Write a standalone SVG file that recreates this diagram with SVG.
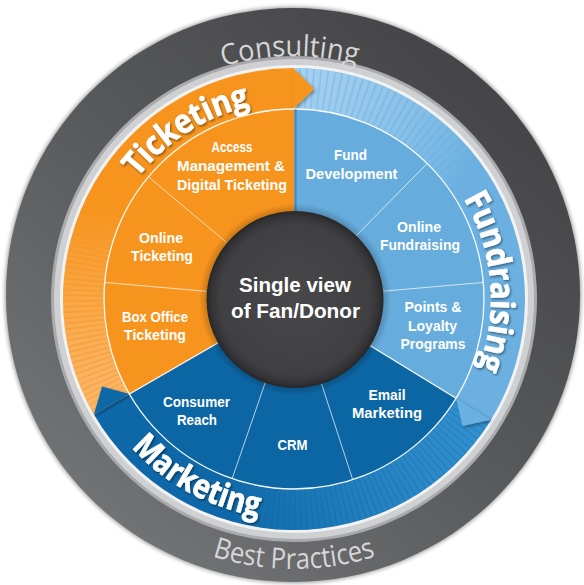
<svg xmlns="http://www.w3.org/2000/svg" width="584" height="585" viewBox="0 0 584 585">
<style>
.seg{font-family:'Liberation Sans',Arial,sans-serif;font-weight:700;font-size:15px;fill:#fff;text-anchor:middle}
.cat{font-family:'Open Sans','Liberation Sans',sans-serif;font-weight:700;font-size:33px;fill:#fff;stroke:#fff;stroke-width:0.7;text-anchor:middle}
.rim{font-family:'Open Sans','Liberation Sans',sans-serif;font-weight:400;font-size:29px;fill:#d5d6d7;text-anchor:middle}
.ctr{font-family:'Liberation Sans',Arial,sans-serif;font-weight:700;font-size:20px;fill:#fff;text-anchor:middle}
.div{stroke:#fff;stroke-opacity:.7;stroke-width:1;fill:none}
.bnd{stroke:#fff;stroke-opacity:.95;stroke-width:1.3;fill:none}
.orange{fill:#f7941e}
.lblue{fill:#66acdc}
.lband{fill:#6bb0e0}
.dblue{fill:#0c66a4}
.dband{fill:#0e68a8}
</style>
<defs>
<radialGradient id="rimG" cx="0.5" cy="0.5" r="0.5">
<stop offset="0.955" stop-color="#6f7072"/>
<stop offset="0.98" stop-color="#b9babc"/>
<stop offset="1" stop-color="#ffffff" stop-opacity="0"/>
</radialGradient>
<linearGradient id="ringG" x1="0.85" y1="0.1" x2="0.15" y2="0.9">
<stop offset="0" stop-color="#444446"/>
<stop offset="0.5" stop-color="#58595b"/>
<stop offset="1" stop-color="#737476"/>
</linearGradient>
<radialGradient id="discG" cx="0.5" cy="0.5" r="0.5">
<stop offset="0" stop-color="#48484a"/>
<stop offset="0.85" stop-color="#404042"/>
<stop offset="0.95" stop-color="#333335"/>
<stop offset="1" stop-color="#262627"/>
</radialGradient>
<radialGradient id="discSh" cx="0.5" cy="0.5" r="0.5">
<stop offset="0.85" stop-color="#000" stop-opacity="0.35"/>
<stop offset="1" stop-color="#000" stop-opacity="0"/>
</radialGradient>
<linearGradient id="ovO" gradientUnits="userSpaceOnUse" x1="111.7" y1="404.25" x2="103.2" y2="210.04">
<stop offset="0" stop-color="#fbbf7c" stop-opacity="0.5"/>
<stop offset="1" stop-color="#fbbf7c" stop-opacity="0"/>
</linearGradient>
<linearGradient id="stO" gradientUnits="userSpaceOnUse" x1="111.7" y1="404.25" x2="103.2" y2="210.04">
<stop offset="0" stop-color="#fbbf7c" stop-opacity="0.6"/>
<stop offset="1" stop-color="#fbbf7c" stop-opacity="0"/>
</linearGradient>
<linearGradient id="ovL" gradientUnits="userSpaceOnUse" x1="294" y1="88.5" x2="466.43" y2="178.26">
<stop offset="0" stop-color="#b4d8f3" stop-opacity="0.5"/>
<stop offset="1" stop-color="#b4d8f3" stop-opacity="0"/>
</linearGradient>
<linearGradient id="stL" gradientUnits="userSpaceOnUse" x1="294" y1="88.5" x2="466.43" y2="178.26">
<stop offset="0" stop-color="#b4d8f3" stop-opacity="0.6"/>
<stop offset="1" stop-color="#b4d8f3" stop-opacity="0"/>
</linearGradient>
<linearGradient id="ovD" gradientUnits="userSpaceOnUse" x1="473.48" y1="408.99" x2="222.0" y2="496.8">
<stop offset="0" stop-color="#3f9ddb" stop-opacity="0.55"/>
<stop offset="1" stop-color="#3f9ddb" stop-opacity="0"/>
</linearGradient>
<linearGradient id="stD" gradientUnits="userSpaceOnUse" x1="473.48" y1="408.99" x2="222.0" y2="496.8">
<stop offset="0" stop-color="#3f9ddb" stop-opacity="0.45"/>
<stop offset="1" stop-color="#3f9ddb" stop-opacity="0"/>
</linearGradient>
<filter id="tipSh" x="-50%" y="-50%" width="200%" height="200%">
<feDropShadow dx="1.5" dy="1.5" stdDeviation="1.5" flood-color="#000" flood-opacity="0.35"/>
</filter>
<filter id="txtSh" x="-10%" y="-20%" width="120%" height="140%">
<feDropShadow dx="1.2" dy="1.5" stdDeviation="1" flood-color="#000" flood-opacity="0.45"/>
</filter>
<path id="pCons" d="M81.467,181.191 A243,243 0 0 1 502.292,173.846"/>
<path id="pBest" d="M60.173,434 A270,270 0 0 0 527.827,434"/>
<path id="pTick" d="M96.188,307.637 A198,198 0 0 1 385.426,123.372"/>
<path id="pFund" d="M377.256,120.457 A197,197 0 0 1 406.994,460.373"/>
<path id="pMark" d="M74.075,304.759 A220,220 0 0 0 408.950,486.581"/>
</defs>

<rect width="584" height="585" fill="#ffffff"/>

<g id="outer-ring">
<circle cx="293" cy="295" r="293" fill="url(#rimG)"/>
<circle cx="293" cy="295" r="287" fill="url(#ringG)"/>
<circle cx="294" cy="299" r="243" fill="#a9aaac"/>
<circle cx="294" cy="299" r="240" fill="#cfd0d2"/>
<circle cx="294" cy="299" r="234" fill="#f2f2f3"/>
<text class="rim"><textPath href="#pCons" startOffset="50%" textLength="135" lengthAdjust="spacingAndGlyphs">Consulting</textPath></text>
<text class="rim"><textPath href="#pBest" startOffset="50%" textLength="166" lengthAdjust="spacingAndGlyphs">Best Practices</textPath></text>
</g>

<g id="bands">
<path class="orange" d="M294,299 L93.948,414.5 A231,231 0 0 1 294,68 Z"/>
<path class="lband" d="M294,299 L294,68 A231,231 0 0 1 490.96,419.697 Z"/>
<path class="dband" d="M294,299 L490.96,419.697 A231,231 0 0 1 93.948,414.5 Z"/>
<path d="M111.702,404.25 A210.5,210.5 0 0 1 103.222,210.039" fill="none" stroke="url(#ovO)" stroke-width="41"/>
<path d="M111.702,404.25 A210.5,210.5 0 0 1 103.222,210.039" fill="none" stroke="url(#stO)" stroke-width="41" stroke-dasharray="3.4 1.8"/>
<path d="M294,88.5 A210.5,210.5 0 0 1 466.431,178.262" fill="none" stroke="url(#ovL)" stroke-width="41"/>
<path d="M294,88.5 A210.5,210.5 0 0 1 466.431,178.262" fill="none" stroke="url(#stL)" stroke-width="41" stroke-dasharray="4.5 2"/>
<path d="M473.481,408.986 A210.5,210.5 0 0 1 222.005,496.805" fill="none" stroke="url(#ovD)" stroke-width="41"/>
<path d="M473.481,408.986 A210.5,210.5 0 0 1 222.005,496.805" fill="none" stroke="url(#stD)" stroke-width="41" stroke-dasharray="4 1.5"/>
<g filter="url(#tipSh)">
<polygon class="orange" points="293,68 314.224,88.971 293,109"/>
<polygon class="lband" points="490.96,419.697 462.512,425.983 456.002,398.275"/>
<polygon class="dband" points="93.948,414.5 101.998,386.5 129.455,394"/>
</g>
<text class="cat" filter="url(#txtSh)"><textPath href="#pTick" startOffset="50%" textLength="136" lengthAdjust="spacingAndGlyphs">Ticketing</textPath></text>
<text class="cat" filter="url(#txtSh)"><textPath href="#pFund" startOffset="50%" textLength="176" lengthAdjust="spacingAndGlyphs">Fundraising</textPath></text>
<text class="cat" filter="url(#txtSh)"><textPath href="#pMark" startOffset="50%" textLength="147" lengthAdjust="spacingAndGlyphs">Marketing</textPath></text>
</g>

<g id="seg-access">
<path class="orange" d="M294,299 L148.452,176.87 A190,190 0 0 1 294,109 Z"/>
<text class="seg" x="232" y="152" textLength="41" lengthAdjust="spacingAndGlyphs">Access</text>
<text class="seg" x="231" y="171" textLength="108" lengthAdjust="spacingAndGlyphs">Management &amp;</text>
<text class="seg" x="232" y="189.5" textLength="110" lengthAdjust="spacingAndGlyphs">Digital Ticketing</text>
</g>
<g id="seg-online-ticketing">
<path class="orange" d="M294,299 L104.723,282.44 A190,190 0 0 1 148.452,176.87 Z"/>
<text class="seg" x="161" y="243" textLength="44" lengthAdjust="spacingAndGlyphs">Online</text>
<text class="seg" x="162" y="261" textLength="62" lengthAdjust="spacingAndGlyphs">Ticketing</text>
</g>
<g id="seg-box-office">
<path class="orange" d="M294,299 L129.455,394 A190,190 0 0 1 104.723,282.44 Z"/>
<text class="seg" x="155" y="321.5" textLength="66" lengthAdjust="spacingAndGlyphs">Box Office</text>
<text class="seg" x="155" y="340" textLength="62" lengthAdjust="spacingAndGlyphs">Ticketing</text>
</g>
<g id="seg-fund-development">
<path class="lblue" d="M294,299 L294,109 A190,190 0 0 1 427.173,163.482 Z"/>
<text class="seg" x="350.5" y="160" textLength="33" lengthAdjust="spacingAndGlyphs">Fund</text>
<text class="seg" x="351.5" y="179" textLength="92" lengthAdjust="spacingAndGlyphs">Development</text>
</g>
<g id="seg-online-fundraising">
<path class="lblue" d="M294,299 L427.173,163.482 A190,190 0 0 1 483.277,282.44 Z"/>
<text class="seg" x="419" y="232" textLength="44" lengthAdjust="spacingAndGlyphs">Online</text>
<text class="seg" x="420" y="250" textLength="80" lengthAdjust="spacingAndGlyphs">Fundraising</text>
</g>
<g id="seg-points-loyalty">
<path class="lblue" d="M294,299 L483.277,282.44 A190,190 0 0 1 456.002,398.275 Z"/>
<text class="seg" x="433" y="312" textLength="57" lengthAdjust="spacingAndGlyphs">Points &amp;</text>
<text class="seg" x="432.5" y="331" textLength="49" lengthAdjust="spacingAndGlyphs">Loyalty</text>
<text class="seg" x="433" y="349" textLength="65" lengthAdjust="spacingAndGlyphs">Programs</text>
</g>
<g id="seg-email-marketing">
<path class="dblue" d="M294,299 L456.002,398.275 A190,190 0 0 1 352.713,479.701 Z"/>
<text class="seg" x="387" y="400" textLength="37" lengthAdjust="spacingAndGlyphs">Email</text>
<text class="seg" x="387" y="418" textLength="70" lengthAdjust="spacingAndGlyphs">Marketing</text>
</g>
<g id="seg-crm">
<path class="dblue" d="M294,299 L352.713,479.701 A190,190 0 0 1 232.142,478.649 Z"/>
<text class="seg" x="292.5" y="450" textLength="30" lengthAdjust="spacingAndGlyphs">CRM</text>
</g>
<g id="seg-consumer-reach">
<path class="dblue" d="M294,299 L232.142,478.649 A190,190 0 0 1 129.455,394 Z"/>
<text class="seg" x="196.5" y="406.5" textLength="67" lengthAdjust="spacingAndGlyphs">Consumer</text>
<text class="seg" x="197" y="425" textLength="40" lengthAdjust="spacingAndGlyphs">Reach</text>
</g>

<g id="connectors">
<circle class="bnd" cx="294" cy="299" r="190"/>
<line x1="295.6" y1="109" x2="295.6" y2="212" stroke="#1f5d8c" stroke-opacity="0.45" stroke-width="2"/>
<line class="div" x1="355.68" y1="236.234" x2="427.173" y2="163.482"/>
<line class="div" x1="381.665" y1="291.33" x2="483.277" y2="282.44"/>
<line class="div" x1="321.193" y1="382.693" x2="352.713" y2="479.701"/>
<line class="div" x1="265.35" y1="382.206" x2="232.142" y2="478.649"/>
<line class="div" x1="206.335" y1="291.33" x2="104.723" y2="282.44"/>
<line class="div" x1="226.588" y1="242.435" x2="148.452" y2="176.87"/>
<line class="bnd" x1="369.032" y1="344.98" x2="456.002" y2="398.275"/>
<line class="bnd" x1="217.79" y1="343" x2="129.455" y2="394"/>
</g>

<g id="center-node">
<circle cx="295" cy="299.5" r="96" fill="url(#discSh)"/>
<circle cx="295" cy="299.5" r="88.5" fill="url(#discG)"/>
<text class="ctr" x="295" y="291.5" textLength="112" lengthAdjust="spacingAndGlyphs">Single view</text>
<text class="ctr" x="295.5" y="317.5" textLength="129" lengthAdjust="spacingAndGlyphs">of Fan/Donor</text>
</g>
</svg>
